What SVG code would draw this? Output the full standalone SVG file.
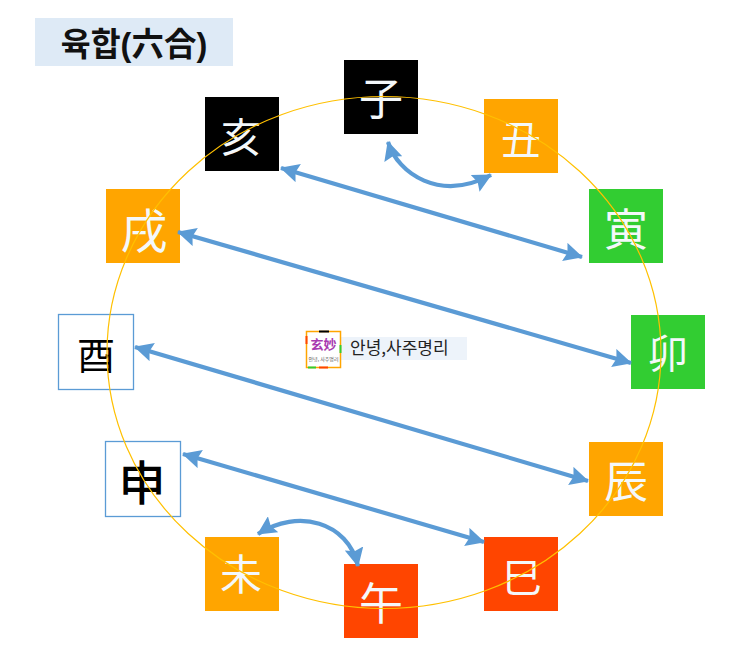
<svg xmlns="http://www.w3.org/2000/svg" width="755" height="667" viewBox="0 0 755 667">
<defs>
<marker id="ah" viewBox="0 0 10 10" refX="9.500" refY="5" markerWidth="4.500" markerHeight="4.500" orient="auto-start-reverse" markerUnits="strokeWidth"><path d="M0 0L10 5L0 10L1.500 5Z" fill="#5b9bd5"/></marker>
</defs>
<style>
.g{font-family:"Noto Sans CJK KR","Noto Sans CJK SC",sans-serif;font-size:44px;text-anchor:middle;fill:#f4f8fa}
.k{fill:#000}
.b{stroke:#5b9bd5;stroke-width:1.3px;fill:#fff}
.c{fill:none;stroke:#5b9bd5;stroke-width:4.200px;marker-start:url(#ah);marker-end:url(#ah)}
</style>
<rect width="755" height="667" fill="#fff"/>
<g id="title"><rect x="35" y="18" width="198" height="48" fill="#deeaf6"/><text x="134" y="56" font-family="'Liberation Sans','Noto Sans CJK KR',sans-serif" font-size="32.500" font-weight="700" text-anchor="middle" fill="#111">육합(六合)</text></g>
<g id="n-ja"><rect x="344" y="60" width="74" height="74" fill="#000"/><text class="g" x="381" y="115">子</text></g>
<g id="n-chuk"><rect x="484" y="99" width="74" height="74" fill="#ffa500"/><text class="g" x="521" y="154" style="font-size:40px">丑</text></g>
<g id="n-in"><rect x="589" y="189" width="74" height="74" fill="#32cd32"/><text class="g" x="626" y="246">寅</text></g>
<g id="n-myo"><rect x="631" y="315" width="74" height="74" fill="#32cd32"/><text class="g" x="668" y="368" style="font-size:40px">卯</text></g>
<g id="n-jin"><rect x="589" y="442" width="74" height="74" fill="#ffa500"/><text class="g" x="626" y="498">辰</text></g>
<g id="n-sa"><rect x="484" y="537" width="74" height="74" fill="#ff4500"/><text class="g" x="522" y="592" style="font-size:40px">巳</text></g>
<g id="n-o"><rect x="344" y="564" width="74" height="74" fill="#ff4500"/><text class="g" x="381" y="620">午</text></g>
<g id="n-mi"><rect x="205" y="537" width="74" height="74" fill="#ffa500"/><text class="g" x="241" y="590" style="font-size:42px">未</text></g>
<g id="n-sin"><rect class="b" x="105.500" y="441.500" width="75" height="75"/><text class="g k" x="142" y="500" style="font-size:47px;font-weight:500">申</text></g>
<g id="n-yu"><rect class="b" x="58.500" y="314.500" width="75" height="75"/><text class="g k" x="96" y="369" style="font-size:38px;font-weight:400">酉</text></g>
<g id="n-sul"><rect x="106" y="189" width="74" height="74" fill="#ffa500"/><text class="g" x="144" y="248" style="font-size:47px">戌</text></g>
<g id="n-hae"><rect x="205" y="97" width="74" height="74" fill="#000"/><text class="g" x="241" y="152" style="font-size:40px">亥</text></g>
<g id="center">
<rect x="341" y="337" width="126" height="23" fill="#edf3fa"/>
<rect x="306.500" y="331.500" width="34" height="36" fill="#fff" stroke="#ffa500" stroke-width="1.500"/>
<path d="M319 331.500h10" stroke="#000" stroke-width="2"/><path d="M306.500 336v8" stroke="#ff4500" stroke-width="2"/><path d="M340.500 345v8" stroke="#32cd32" stroke-width="2"/><path d="M308 367.500h8" stroke="#32cd32" stroke-width="2"/><path d="M319 367.500h9" stroke="#ff4500" stroke-width="2"/>
<text x="323.500" y="349" font-family="'Noto Sans CJK SC',serif" font-size="13" font-weight="700" text-anchor="middle" fill="#a83ab0">玄妙</text>
<text x="323.500" y="361" font-family="'Noto Sans CJK KR',sans-serif" font-size="5" text-anchor="middle" fill="#555">안녕, 사주명리</text>
<text x="350" y="354" font-family="'Noto Sans CJK KR','Liberation Sans',sans-serif" font-size="17" fill="#222">안녕,사주명리</text>
</g>
<g id="ring"><ellipse cx="384" cy="352.500" rx="277" ry="256" fill="none" stroke="#ffc000" stroke-width="1.200"/></g>
<g id="connectors">
<path class="c" d="M281 168L582 257"/>
<path class="c" d="M178 232L631 363"/>
<path class="c" d="M135 347L588 481"/>
<path class="c" d="M183 454L484 542"/>
<path class="c" d="M388 142C398 174 440 202 491 175"/>
<path class="c" d="M258 534C298 508 348 522 358 566"/>
</g>
</svg>
